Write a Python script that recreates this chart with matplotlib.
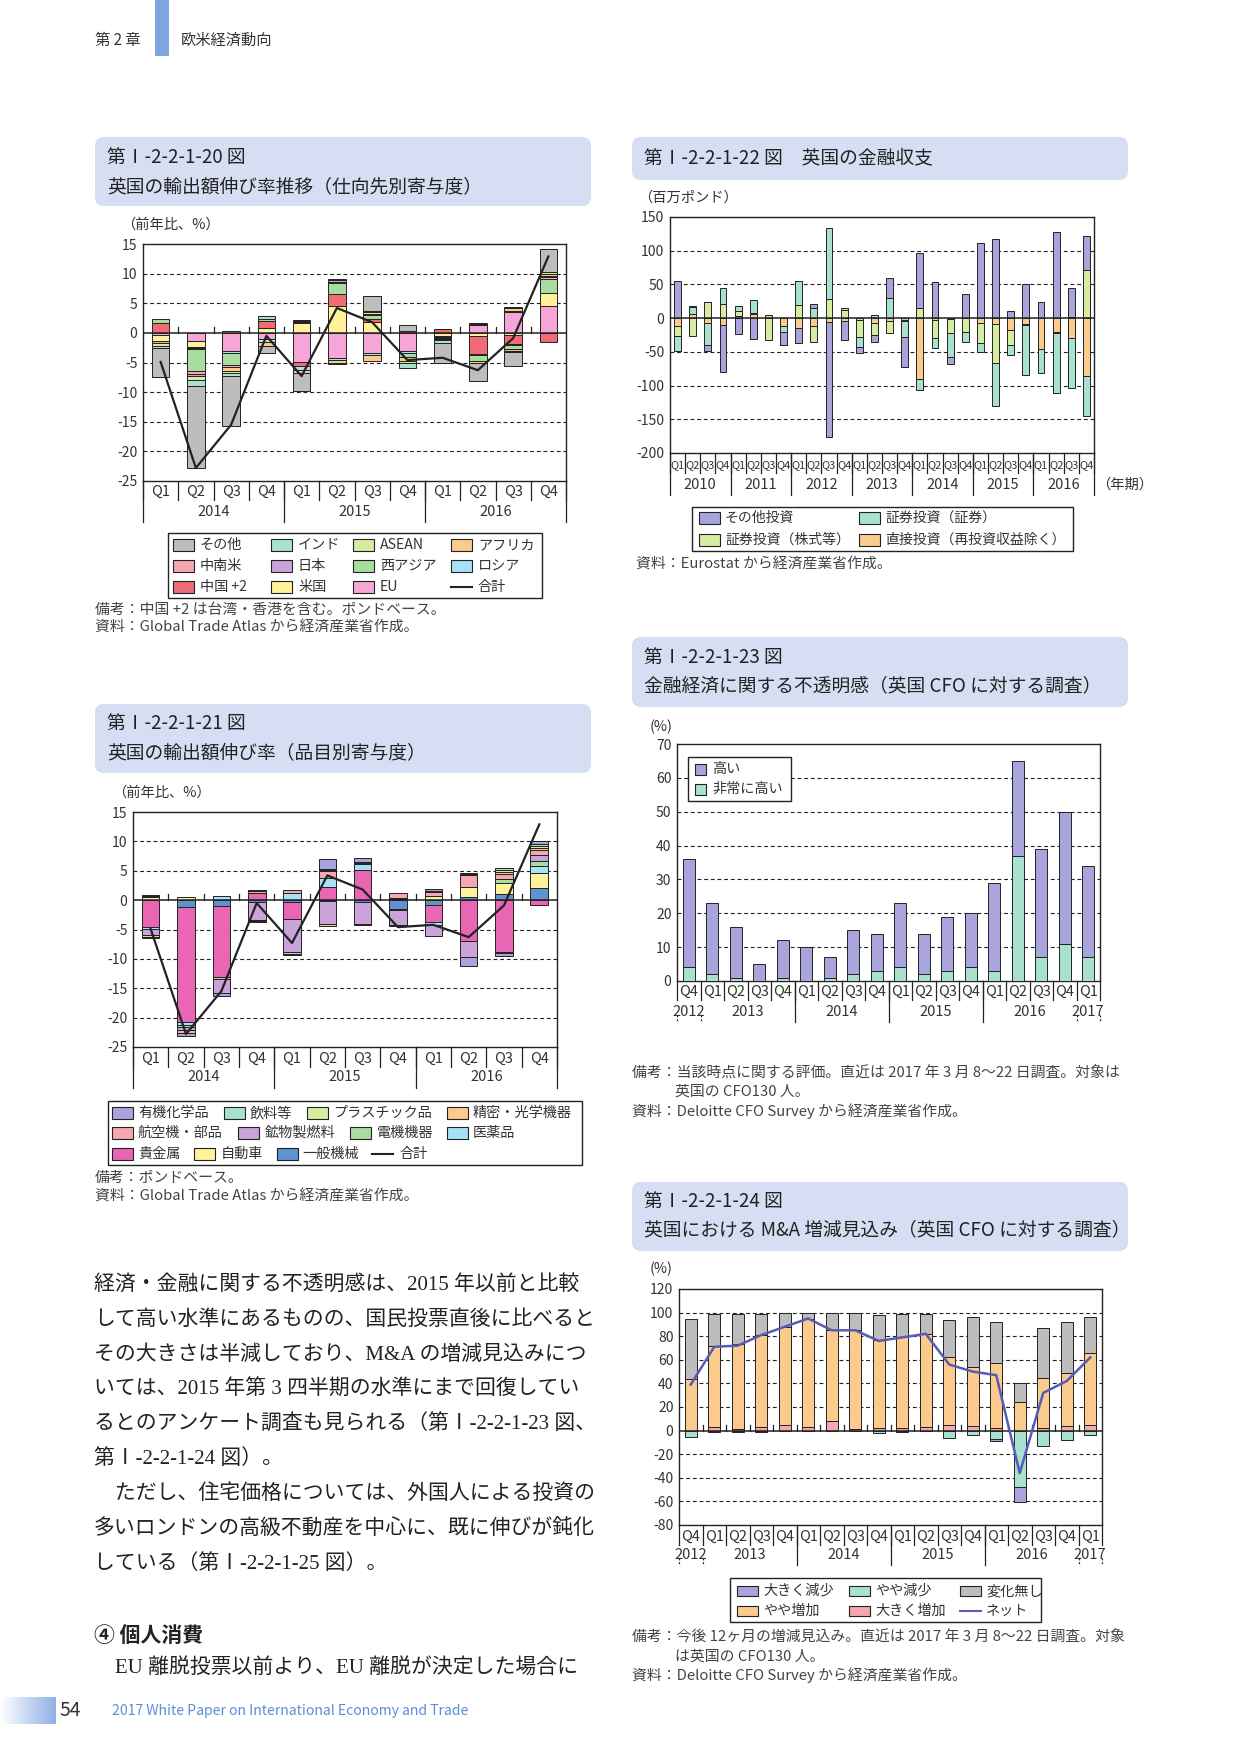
import numpy as np
import matplotlib.pyplot as plt
from matplotlib import transforms
from matplotlib.colors import LinearSegmentedColormap
from matplotlib.patches import FancyBboxPatch, Rectangle

plt.rcParams['font.family'] = ['Noto Sans CJK JP', 'DejaVu Sans']
plt.rcParams['axes.unicode_minus'] = False

# ---------------- data ----------------
# fig 20 / 21 : UK export growth, 2014Q1-2016Q4 (y/y %, contributions)
quarters_3y = ['Q1', 'Q2', 'Q3', 'Q4'] * 3
years_3y = ['2014', '2015', '2016']
total_growth = [-4.9, -22.8, -15.5, -0.5, -7.3, 4.2, 1.8, -4.6, -4.2, -6.3, -0.9, 12.9]

# by destination (stacking order, inner -> outer)
dest_eu = [-0.3, -1.3, -3.1, -1.1, -4.9, -4.2, -3.4, -3.0, 0.0, 1.35, 3.5, 4.5]
dest_us = [-1.0, -1.0, 0.3, 0.85, 1.6, 4.5, 1.8, 0.0, -0.45, -0.6, -0.35, 2.25]
dest_china = [1.6, -0.2, 0.0, 1.1, -0.7, 2.0, 0.55, 0.3, 0.6, -2.9, -1.5, -1.5]
dest_russia = [0.0, -0.3, -0.3, -0.45, -0.6, -0.45, -0.3, -0.45, -0.2, -0.2, -0.2, 0.0]
dest_westasia = [0.8, -3.6, -2.1, 0.4, 0.2, 1.85, 0.7, -0.55, -0.2, -1.0, -0.65, 2.3]
dest_latam = [-0.4, -0.5, -0.3, 0.0, 0.2, 0.3, 0.0, 0.0, 0.1, 0.2, -0.3, 0.3]
dest_japan = [0.0, -0.3, 0.0, 0.0, 0.0, 0.2, 0.2, 0.0, -0.2, 0.15, 0.2, 0.3]
dest_africa = [0.0, 0.0, -0.6, -0.7, -0.5, -0.4, -1.1, -0.7, 0.0, -0.3, 0.45, 0.25]
dest_asean = [-0.5, -0.7, -0.3, 0.0, 0.2, 0.3, 0.2, -0.4, -0.2, 0.0, 0.3, 0.3]
dest_india = [-0.3, -1.1, -0.6, 0.5, 0.0, 0.0, 0.3, -0.85, -0.45, 0.0, -0.2, 0.1]
dest_other = [-5.0, -13.8, -8.4, -1.2, -3.1, -0.15, 2.4, 1.0, -3.3, -3.1, -2.35, 3.9]

# by product (stacking order, inner -> outer)
prod_machinery = [0.0, -1.15, -1.0, -0.4, -0.4, -0.15, -0.4, -1.45, -0.75, 0.45, 1.1, 2.1]
prod_metals = [-4.5, -19.6, -12.1, 1.25, -2.75, 2.3, 5.2, 0.2, -3.0, -7.0, -8.8, -0.9]
prod_cars = [0.5, 0.5, 0.0, 0.0, 0.0, 0.0, 0.0, -0.2, 0.7, 1.8, 1.8, 2.5]
prod_pharma = [-0.4, -0.5, 0.65, 0.0, 1.25, 1.55, 1.0, 0.0, -0.55, 0.0, 0.0, 1.15]
prod_electric = [0.0, -0.4, -0.3, 0.0, 0.0, 0.0, 0.0, 0.2, 0.0, 0.0, 0.7, 0.85]
prod_fuel = [-1.0, -0.5, -2.4, -2.9, -5.75, -3.9, -3.6, -2.5, -1.8, -2.6, -0.2, 1.0]
prod_aircraft = [0.2, -0.45, 0.0, 0.3, 0.4, 1.15, 0.15, 0.8, 0.75, 2.0, 0.85, 0.9]
prod_optical = [-0.3, 0.0, 0.0, 0.2, 0.0, -0.3, -0.2, 0.0, 0.0, 0.2, 0.35, 0.3]
prod_plastic = [0.0, 0.0, 0.0, -0.2, 0.0, 0.15, 0.0, -0.25, 0.0, 0.2, 0.35, 0.4]
prod_beverage = [-0.2, 0.0, 0.0, 0.0, -0.2, 0.15, 0.15, 0.0, 0.15, 0.0, 0.3, 0.35]
prod_organic = [0.2, -0.5, -0.45, -0.2, -0.3, 1.7, 0.7, 0.0, 0.35, -1.55, -0.55, 0.45]

# fig 22 : UK financial account 2010Q1-2016Q4 (million GBP)
quarters_7y = ['Q1', 'Q2', 'Q3', 'Q4'] * 7
years_7y = ['2010', '2011', '2012', '2013', '2014', '2015', '2016']
fin_direct = [-12, 6, -7, -10, 3, 6, 4, -12, -14, -12, -6, -4, -2.5, -7.5,
              -4, -2.5, -90, -3, -1, 0, -7, -9, -18, -9, -46, -20, -30, -86]
fin_equity = [-14, -26, 24, 21, 7, 1, -33, 0, 20, -24, 28, 12, -25, -18,
              -18, -1, 15, -26, -21, -21, -30, -57, -22, -1.5, 0, -1.5, 2, 72]
fin_debt = [-22, 11, -33, 24, 8, 20, 0, -8, 35, 15, 105, 3, -16, 5,
            30, -25, -16, -16, -35, -15, -13, -64, -15, -74, -36, -89, -73, -59]
fin_other = [55, 1, -8, -70, -24, -31, 0, -20, -23, 6, -171, -28, -7.5, -10,
             30, -44, 81, 53, -11, 36, 112, 117, 10, 51, 24, 128, 43, 50]

# fig 23 / 24 : Deloitte CFO survey 2012Q4-2017Q1 (%)
quarters_cfo = ['Q4', 'Q1', 'Q2', 'Q3', 'Q4', 'Q1', 'Q2', 'Q3', 'Q4',
                'Q1', 'Q2', 'Q3', 'Q4', 'Q1', 'Q2', 'Q3', 'Q4', 'Q1']
years_cfo = ['2012', '2013', '2014', '2015', '2016', '2017']
year_center_cfo = [0, 2.5, 6.5, 10.5, 14.5, 17]
unc_very_high = [4, 2, 1, 0, 1, 0, 1, 2, 3, 4, 2, 3, 4, 3, 37, 7, 11, 7]
unc_high = [32, 21, 15, 5, 11, 10, 6, 13, 11, 19, 12, 16, 16, 26, 28, 32, 39, 27]

ma_big_inc = [0, 3, 1, 3, 5, 3, 8, 1, 2, 2, 3, 5, 4, 2, 0, 2, 4, 5]
ma_some_inc = [44, 69, 72, 78, 83, 92, 77, 84, 75, 77, 79, 57, 50, 55, 24, 43, 45, 61]
ma_no_change = [51, 27, 26, 18, 12, 5, 15, 15, 21, 20, 17, 32, 42, 35, 16, 42, 43, 30]
ma_some_dec = [-5, -1, -1, -1, 0, 0, 0, 0, -2, -1, 0, -6, -4, -7.5, -48, -13, -8, -4]
ma_big_dec = [0, 0, 0, 0, 0, 0, 0, 0, 0, 0, 0, 0, 0, -1.5, -12.5, 0, 0, 0]
ma_net = [39, 71, 72, 81, 88, 95, 85, 85, 76, 79, 82, 56, 50, 47, -36, 32, 42, 62]

# ---------------- colours ----------------
TXT = '#333333'
NOTE = '#444444'
EDGE = '#222222'
GRAY = '#BDBDBD'
PINK = '#F5A8B0'
RED = '#F06B78'
MINT = '#A8E2CE'
PURPLE = '#C9A3D9'
YELLOW = '#FFF29A'
LGREEN = '#D6EDA1'
GREEN = '#A9DDA0'
EUPINK = '#F5A6D6'
ORANGE = '#FBCB8E'
LBLUE = '#A6E1F7'
LAVENDER = '#A9A5DC'
MAGENTA = '#E866B4'
BLUE = '#5F92D2'
NETBLUE = '#5A5AB8'

W, H = 1241, 1754
fig = plt.figure(figsize=(W / 100, H / 100), dpi=100)
bg = fig.add_axes([0, 0, 1, 1])
bg.set_xlim(0, W)
bg.set_ylim(H, 0)
bg.axis('off')
bg.set_autoscale_on(False)


def page_text(x, y, s, size=10, host=None, **kw):
    kw.setdefault('color', TXT)
    kw.setdefault('va', 'center')
    kw.setdefault('ha', 'left')
    host = host or bg
    return host.text(x, y, s, fontsize=size, transform=bg.transData, **kw)


def title_box(x0, y0, x1, y1, lines, ys):
    bg.add_patch(FancyBboxPatch((x0, y0), x1 - x0, y1 - y0,
                                boxstyle='round,pad=0,rounding_size=9',
                                fc='#D5DEF2', ec='none'))
    for s, y in zip(lines, ys):
        page_text(x0 + 12, y, s, size=13.5, color='#222222')


def make_axes(x0, y0, x1, y1):
    return fig.add_axes([x0 / W, 1 - y1 / H, (x1 - x0) / W, (y1 - y0) / H])


def style_axes(ax, n, ymin, ymax, step):
    ax.set_xlim(-0.5, n - 0.5)
    ax.set_ylim(ymin, ymax)
    ticks = np.arange(ymin, ymax + step / 2, step)
    ax.set_yticks(ticks)
    ax.set_yticklabels([f'{t:g}' for t in ticks])
    ax.set_xticks([])
    ax.tick_params(axis='y', length=0, labelsize=10, labelcolor=TXT, pad=4)
    for t in ticks[1:-1]:
        if t == 0:
            ax.axhline(0, color=EDGE, lw=1.1, zorder=4)
        else:
            ax.axhline(t, color=EDGE, lw=0.8, ls=(0, (3.5, 2.5)), zorder=1)
    for sp in ax.spines.values():
        sp.set_color(EDGE)
        sp.set_linewidth(1.0)


def stack_bars(ax, series, colors, width):
    n = len(series[0])
    x = np.arange(n)
    pos = np.zeros(n)
    neg = np.zeros(n)
    for vals, c in zip(series, colors):
        v = np.asarray(vals, float)
        for m, base in ((v > 0, pos), (v < 0, neg)):
            if m.any():
                ax.bar(x[m], v[m], width, bottom=base[m], color=c,
                       edgecolor=EDGE, linewidth=0.7, zorder=3)
                base[m] += v[m]


def quarter_axis(ax, qlabels, year_names, year_pos, year_bounds,
                 y_top, y_q, y_qsep, y_year, y_ysep, qsize=10.5, minor=()):
    tr = transforms.blended_transform_factory(ax.transData, bg.transData)
    for i, q in enumerate(qlabels):
        ax.text(i, y_q, q, transform=tr, ha='center', va='center',
                fontsize=qsize, color=TXT)
    for b in np.arange(-0.5, len(qlabels), 1.0):
        ax.plot([b, b], [y_top, y_qsep], transform=tr, color=EDGE, lw=0.9,
                clip_on=False)
    for name, xc in zip(year_names, year_pos):
        ax.text(xc, y_year, name, transform=tr, ha='center', va='center',
                fontsize=10.5, color=TXT)
    for b in year_bounds:
        ax.plot([b, b], [y_top, y_ysep], transform=tr, color=EDGE, lw=0.9,
                clip_on=False)
    for b in minor:
        ax.plot([b, b], [y_ysep - 7, y_ysep], transform=tr, color=EDGE,
                lw=0.9, ls=(0, (1.5, 1.5)), clip_on=False)


def zero_ticks(ax, n, h):
    for b in np.arange(0.5, n - 1, 1.0):
        ax.plot([b, b], [0, h], color=EDGE, lw=0.9, zorder=4)


top = fig.add_axes([0, 0, 1, 1])
top.set_xlim(0, W)
top.set_ylim(H, 0)
top.axis('off')
top.set_zorder(10)
top.patch.set_alpha(0)


def legend_box(box, items, pw=21, ph=12, size=10.2):
    x0, y0, x1, y1 = box
    top.add_patch(Rectangle((x0, y0), x1 - x0, y1 - y0, fc='white',
                            ec=EDGE, lw=1.0, zorder=1))
    for kind, c, label, px, tx, y in items:
        if kind == 'patch':
            top.add_patch(Rectangle((px, y - ph / 2), pw, ph, fc=c, ec=EDGE,
                                    lw=0.8, zorder=2))
        else:
            top.plot([px, px + pw], [y, y], color=c, lw=1.5, zorder=2)
        top.text(tx, y, label, fontsize=size, va='center', ha='left',
                 color=TXT, zorder=3)


# ---------------- header / footer ----------------
page_text(95, 40, '第 2 章', size=11)
bg.add_patch(Rectangle((155, 0), 14, 56, fc='#7FA6E0', ec='none'))
page_text(181, 40, '欧米経済動向', size=11)

grad = np.linspace(0, 1, 200).reshape(1, -1)
bg.imshow(grad, extent=(0, 56, 1724, 1697), aspect='auto',
          cmap=LinearSegmentedColormap.from_list('g', ['#FFFFFF', '#8FB0E6']))
bg.set_xlim(0, W)
bg.set_ylim(H, 0)
page_text(60, 1710, '54', size=14, color='#333333')
page_text(112, 1711, '2017 White Paper on International Economy and Trade',
          size=10.1, color='#5B8ED6')

# ---------------- fig 20 ----------------
title_box(95, 137, 591, 206, ['第Ⅰ-2-2-1-20 図', '英国の輸出額伸び率推移（仕向先別寄与度）'], [157, 187])
page_text(121, 225, '（前年比、%）', size=10.3)
ax = make_axes(143, 244, 566, 481)
style_axes(ax, 12, -25, 15, 5)
dest_series = [dest_eu, dest_us, dest_china, dest_russia, dest_westasia, dest_latam,
               dest_japan, dest_africa, dest_asean, dest_india, dest_other]
dest_colors = [EUPINK, YELLOW, RED, LBLUE, GREEN, PINK, PURPLE, ORANGE, LGREEN, MINT, GRAY]
stack_bars(ax, dest_series, dest_colors, 0.5)
ax.plot(np.arange(12), total_growth, color=EDGE, lw=1.6, zorder=5)
zero_ticks(ax, 12, 1.0)
quarter_axis(ax, quarters_3y, years_3y, [1.5, 5.5, 9.5], [-0.5, 3.5, 7.5, 11.5],
             481, 492, 500, 512, 522)
cols = [(173, 200), (271, 298), (353, 380), (451, 478)]
rows = [545, 566, 587]
legend_box((168, 533, 542, 598), [
    ('patch', GRAY, 'その他', *cols[0], rows[0]),
    ('patch', PINK, '中南米', *cols[0], rows[1]),
    ('patch', RED, '中国 +2', *cols[0], rows[2]),
    ('patch', MINT, 'インド', *cols[1], rows[0]),
    ('patch', PURPLE, '日本', *cols[1], rows[1]),
    ('patch', YELLOW, '米国', *cols[1], rows[2]),
    ('patch', LGREEN, 'ASEAN', *cols[2], rows[0]),
    ('patch', GREEN, '西アジア', *cols[2], rows[1]),
    ('patch', EUPINK, 'EU', *cols[2], rows[2]),
    ('patch', ORANGE, 'アフリカ', *cols[3], rows[0]),
    ('patch', LBLUE, 'ロシア', *cols[3], rows[1]),
    ('line', EDGE, '合計', *cols[3], rows[2]),
])
page_text(95, 610, '備考：中国 +2 は台湾・香港を含む。ポンドベース。', size=10.7, color=NOTE)
page_text(95, 628, '資料：Global Trade Atlas から経済産業省作成。', size=10.7, color=NOTE)

# ---------------- fig 21 ----------------
title_box(95, 704, 591, 773, ['第Ⅰ-2-2-1-21 図', '英国の輸出額伸び率（品目別寄与度）'], [723, 753])
page_text(112, 793, '（前年比、%）', size=10.3)
ax = make_axes(133, 812, 557, 1047)
style_axes(ax, 12, -25, 15, 5)
prod_series = [prod_machinery, prod_metals, prod_cars, prod_pharma, prod_electric,
               prod_fuel, prod_aircraft, prod_optical, prod_plastic, prod_beverage,
               prod_organic]
prod_colors = [BLUE, MAGENTA, YELLOW, LBLUE, GREEN, PURPLE, PINK, ORANGE, LGREEN,
               MINT, LAVENDER]
stack_bars(ax, prod_series, prod_colors, 0.5)
ax.plot(np.arange(12), total_growth, color=EDGE, lw=1.6, zorder=5)
zero_ticks(ax, 12, 1.0)
quarter_axis(ax, quarters_3y, years_3y, [1.5, 5.5, 9.5], [-0.5, 3.5, 7.5, 11.5],
             1047, 1059, 1067, 1077, 1088)
r = [1113, 1133, 1154]
legend_box((108, 1101, 582, 1165), [
    ('patch', LAVENDER, '有機化学品', 112, 138, r[0]),
    ('patch', MINT, '飲料等', 224, 250, r[0]),
    ('patch', LGREEN, 'プラスチック品', 307, 333, r[0]),
    ('patch', ORANGE, '精密・光学機器', 447, 473, r[0]),
    ('patch', PINK, '航空機・部品', 112, 138, r[1]),
    ('patch', PURPLE, '鉱物製燃料', 238, 265, r[1]),
    ('patch', GREEN, '電機機器', 350, 377, r[1]),
    ('patch', LBLUE, '医薬品', 447, 473, r[1]),
    ('patch', MAGENTA, '貴金属', 112, 138, r[2]),
    ('patch', YELLOW, '自動車', 194, 221, r[2]),
    ('patch', BLUE, '一般機械', 277, 302, r[2]),
    ('line', EDGE, '合計', 372, 400, r[2]),
])
page_text(95, 1178, '備考：ポンドベース。', size=10.7, color=NOTE)
page_text(95, 1197, '資料：Global Trade Atlas から経済産業省作成。', size=10.7, color=NOTE)

# ---------------- fig 22 ----------------
title_box(632, 137, 1128, 180, ['第Ⅰ-2-2-1-22 図　英国の金融収支'], [158])
page_text(638, 198, '（百万ポンド）', size=10.3)
ax = make_axes(670, 217, 1094, 453)
style_axes(ax, 28, -200, 150, 50)
stack_bars(ax, [fin_direct, fin_equity, fin_debt, fin_other],
           [ORANGE, LGREEN, MINT, LAVENDER], 0.45)
quarter_axis(ax, quarters_7y, years_7y, [1.5 + 4 * k for k in range(7)],
             [-0.5 + 4 * k for k in range(8)], 453, 465, 473, 485, 495, qsize=8)
page_text(1096, 485, '（年期）', size=10.3)
legend_box((692, 507, 1073, 551), [
    ('patch', LAVENDER, 'その他投資', 699, 725, 518),
    ('patch', MINT, '証券投資（証券）', 859, 885, 518),
    ('patch', LGREEN, '証券投資（株式等）', 699, 725, 540),
    ('patch', ORANGE, '直接投資（再投資収益除く）', 859, 885, 540),
], size=10)
page_text(636, 565, '資料：Eurostat から経済産業省作成。', size=10.7, color=NOTE)

# ---------------- fig 23 ----------------
title_box(632, 637, 1128, 707, ['第Ⅰ-2-2-1-23 図', '金融経済に関する不透明感（英国 CFO に対する調査）'], [657, 686])
page_text(650, 727, '(%)', size=10.3)
ax = make_axes(677, 744, 1100, 981)
style_axes(ax, 18, 0, 70, 10)
stack_bars(ax, [unc_very_high, unc_high], [MINT, LAVENDER], 0.52)
quarter_axis(ax, quarters_cfo, years_cfo, year_center_cfo, [4.5, 8.5, 12.5],
             981, 992, 1000, 1012, 1022, minor=(-0.5, 0.5, 16.5, 17.5))
legend_box((688, 757, 791, 801), [
    ('patch', LAVENDER, '高い', 695, 712, 769),
    ('patch', MINT, '非常に高い', 695, 712, 789),
], pw=11, ph=11)
page_text(632, 1073, '備考：当該時点に関する評価。直近は 2017 年 3 月 8～22 日調査。対象は', size=10.7, color=NOTE)
page_text(675, 1092, '英国の CFO130 人。', size=10.7, color=NOTE)
page_text(632, 1111, '資料：Deloitte CFO Survey から経済産業省作成。', size=10.7, color=NOTE)

# ---------------- fig 24 ----------------
title_box(632, 1182, 1128, 1251, ['第Ⅰ-2-2-1-24 図', '英国における M&A 増減見込み（英国 CFO に対する調査）'], [1201, 1230])
page_text(650, 1269, '(%)', size=10.3)
ax = make_axes(679, 1289, 1102, 1525)
style_axes(ax, 18, -80, 120, 20)
stack_bars(ax, [ma_big_inc, ma_some_inc, ma_no_change, ma_some_dec, ma_big_dec],
           [PINK, ORANGE, GRAY, MINT, LAVENDER], 0.5)
ax.plot(np.arange(18), ma_net, color=NETBLUE, lw=1.8, zorder=5)
zero_ticks(ax, 18, 5)
quarter_axis(ax, quarters_cfo, years_cfo, year_center_cfo, [4.5, 8.5, 12.5],
             1525, 1537, 1545, 1555, 1565, minor=(-0.5, 0.5, 16.5, 17.5))
c3 = [(737, 763), (849, 875), (960, 986)]
legend_box((730, 1578, 1041, 1622), [
    ('patch', LAVENDER, '大きく減少', *c3[0], 1591),
    ('patch', MINT, 'やや減少', *c3[1], 1591),
    ('patch', GRAY, '変化無し', *c3[2], 1591),
    ('patch', ORANGE, 'やや増加', *c3[0], 1611),
    ('patch', PINK, '大きく増加', *c3[1], 1611),
    ('line', NETBLUE, 'ネット', *c3[2], 1611),
], ph=10)
page_text(632, 1638, '備考：今後 12ヶ月の増減見込み。直近は 2017 年 3 月 8～22 日調査。対象', size=10.7, color=NOTE)
page_text(675, 1657, 'は英国の CFO130 人。', size=10.7, color=NOTE)
page_text(632, 1675, '資料：Deloitte CFO Survey から経済産業省作成。', size=10.7, color=NOTE)

# ---------------- body text ----------------
body_lines = [
    '経済・金融に関する不透明感は、2015 年以前と比較',
    'して高い水準にあるものの、国民投票直後に比べると',
    'その大きさは半減しており、M&A の増減見込みにつ',
    'いては、2015 年第 3 四半期の水準にまで回復してい',
    'るとのアンケート調査も見られる（第Ⅰ-2-2-1-23 図、',
    '第Ⅰ-2-2-1-24 図）。',
    '\u3000ただし、住宅価格については、外国人による投資の',
    '多いロンドンの高級不動産を中心に、既に伸びが鈍化',
    'している（第Ⅰ-2-2-1-25 図）。',
]
serif = ['Liberation Serif', 'Noto Sans CJK JP']
for i, line in enumerate(body_lines):
    page_text(94, 1285 + 34.9 * i, line, size=15, family=serif, color='#222222')
page_text(94, 1635, '④ 個人消費', size=15, fontweight='bold', color='#222222')
page_text(94, 1668, '\u3000EU 離脱投票以前より、EU 離脱が決定した場合に', size=15,
          family=serif, color='#222222')

fig.savefig('out.png', dpi=100)
